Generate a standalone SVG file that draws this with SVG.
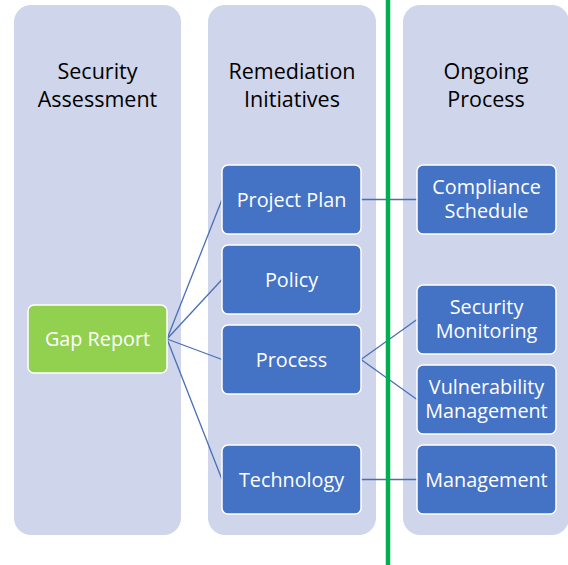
<svg xmlns="http://www.w3.org/2000/svg" width="568" height="565" viewBox="0 0 568 565">
<style>
.col{fill:#CFD5EA;}
.node{fill:#4472C4;stroke:#FFFFFF;stroke-width:1.5;}
.gap{fill:#92D050;stroke:#FFFFFF;stroke-width:1.5;}
.hdr{font-family:"Open Sans","Liberation Sans",sans-serif;font-size:21.5px;fill:#000000;text-anchor:middle;}
.lbl{font-family:"Open Sans","Liberation Sans",sans-serif;font-size:19.8px;fill:#FFFFFF;text-anchor:middle;}
.conn line{stroke:#4A6FB5;stroke-width:1.3;fill:none;}
</style>
<rect width="568" height="565" fill="#FFFFFF"/>
<g id="col-assessment">
<rect class="col" x="14" y="5" width="167" height="530" rx="17"/>
<text class="hdr" x="97.5" y="79">Security<tspan x="97.5" dy="28">Assessment</tspan></text>
</g>
<g id="col-remediation">
<rect class="col" x="208" y="5" width="168" height="530" rx="17"/>
<text class="hdr" x="292" y="79">Remediation<tspan x="292" dy="28">Initiatives</tspan></text>
</g>
<g id="col-ongoing">
<rect class="col" x="403" y="5" width="166" height="530" rx="17"/>
<text class="hdr" x="486" y="79">Ongoing<tspan x="486" dy="28">Process</tspan></text>
</g>
<g class="conn" id="connectors">
<line x1="167" y1="339" x2="222" y2="199.5"/>
<line x1="167" y1="339" x2="222" y2="279.5"/>
<line x1="167" y1="339" x2="222" y2="359.5"/>
<line x1="167" y1="339" x2="222" y2="479.5"/>
<line x1="361" y1="199.5" x2="417" y2="199.5"/>
<line x1="361" y1="359.5" x2="417" y2="319.5"/>
<line x1="361" y1="359.5" x2="417" y2="399.5"/>
<line x1="361" y1="479.5" x2="417" y2="479.5"/>
</g>
<g id="divider">
<line x1="388" y1="0" x2="388" y2="565" stroke="#00B050" stroke-width="4.5"/>
</g>
<g id="gap-report">
<rect class="gap" x="28" y="305" width="139" height="68" rx="6"/>
<text class="lbl" x="97.5" y="346">Gap Report</text>
</g>
<g id="project-plan">
<rect class="node" x="222" y="165" width="139" height="69" rx="6"/>
<text class="lbl" x="291.5" y="206.5">Project Plan</text>
</g>
<g id="policy">
<rect class="node" x="222" y="245" width="139" height="69" rx="6"/>
<text class="lbl" x="291.5" y="286.5">Policy</text>
</g>
<g id="process">
<rect class="node" x="222" y="325" width="139" height="69" rx="6"/>
<text class="lbl" x="291.5" y="366.5">Process</text>
</g>
<g id="technology">
<rect class="node" x="222" y="445" width="139" height="69" rx="6"/>
<text class="lbl" x="291.5" y="486.5">Technology</text>
</g>
<g id="compliance-schedule">
<rect class="node" x="417" y="165" width="139" height="69" rx="6"/>
<text class="lbl" x="486.5" y="193.5">Compliance<tspan x="486.5" dy="24">Schedule</tspan></text>
</g>
<g id="security-monitoring">
<rect class="node" x="417" y="285" width="139" height="69" rx="6"/>
<text class="lbl" x="486.5" y="313.5">Security<tspan x="486.5" dy="24">Monitoring</tspan></text>
</g>
<g id="vulnerability-management">
<rect class="node" x="417" y="365" width="139" height="69" rx="6"/>
<text class="lbl" x="486.5" y="393.5">Vulnerability<tspan x="486.5" dy="24">Management</tspan></text>
</g>
<g id="management">
<rect class="node" x="417" y="445" width="139" height="69" rx="6"/>
<text class="lbl" x="486.5" y="486.5">Management</text>
</g>
</svg>
